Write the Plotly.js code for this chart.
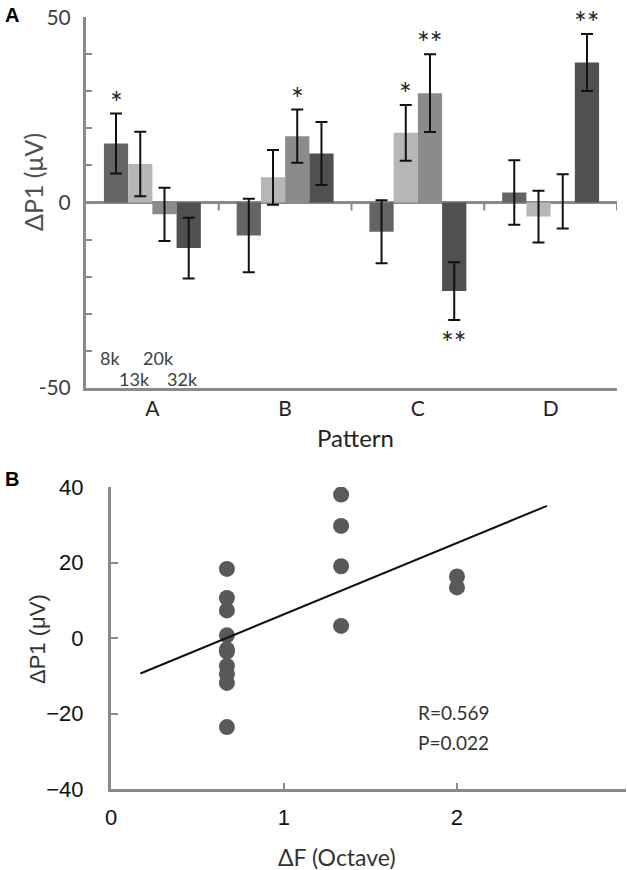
<!DOCTYPE html>
<html>
<head>
<meta charset="utf-8">
<script src="https://cdn.plot.ly/plotly-3.0.1.min.js"></script>
<style>
  html, body { margin: 0; padding: 0; background: #fff; }
  #chart { width: 627px; height: 870px; }
</style>
</head>
<body>
<div id="chart"></div>
<script>
// Painel A: ΔP1 por padrão e frequência
const patterns = ['A', 'B', 'C', 'D'];
const freqs = ['8k', '13k', '20k', '32k'];

const dp1_8k  = [15.9, -8.9, -7.9, 2.7];
const dp1_13k = [10.4, 6.8, 18.8, -3.8];
const dp1_20k = [-3.2, 17.9, 29.5, 0.3];
const dp1_32k = [-12.3, 13.2, -23.9, 37.8];

const err_8k  = [8.1, 9.9, 8.5, 8.7];
const err_13k = [8.7, 7.4, 7.5, 7.0];
const err_20k = [7.2, 7.2, 10.5, 7.3];
const err_32k = [8.2, 8.5, 7.8, 7.7];

const sig_8k  = ['*', '', '', ''];
const sig_13k = ['', '', '*', ''];
const sig_20k = ['', '*', '**', ''];
const sig_32k = ['', '', '**', '**'];

// Painel B: ΔP1 contra a distância em oitavas
const octave = [0.67, 0.67, 0.67, 0.67, 0.67, 0.67, 0.67, 0.67, 0.67, 0.67,
                1.33, 1.33, 1.33, 1.33, 2, 2];
const dp1Pts = [18.3, 10.6, 7.3, 0.7, -3.0, -3.6, -7.4, -9.6, -11.9, -23.6,
                38.0, 29.7, 19.0, 3.2, 16.3, 13.4];
const fitX = [0.17, 2.52];
const fitY = [-9.4, 35.0];
const statsText = ['R=0.569', 'P=0.022'];

const W = 627, H = 870;
const px = v => v / W;
const py = v => 1 - v / H;

const grays = ['#646464', '#b6b6b6', '#8b8b8b', '#505050'];
const axisGray = '#8a8a8a';
const bargap = 0.27;
const barW = (1 - bargap) / 4;

const series = [dp1_8k, dp1_13k, dp1_20k, dp1_32k];
const errs = [err_8k, err_13k, err_20k, err_32k];
const sigs = [sig_8k, sig_13k, sig_20k, sig_32k];

const data = series.map((vals, i) => ({
    type: 'bar',
    x: patterns,
    y: vals,
    name: freqs[i],
    marker: { color: grays[i], line: { width: 0 } },
    error_y: { type: 'data', array: errs[i], visible: true, color: '#111', thickness: 2, width: 6 },
    xaxis: 'x', yaxis: 'y',
    hoverinfo: 'skip'
}));

data.push({
    type: 'scatter', mode: 'markers', x: octave, y: dp1Pts,
    marker: { color: '#595959', size: 16 },
    xaxis: 'x2', yaxis: 'y2', hoverinfo: 'skip'
});
data.push({
    type: 'scatter', mode: 'lines', x: fitX, y: fitY,
    line: { color: '#111', width: 2 },
    xaxis: 'x2', yaxis: 'y2', hoverinfo: 'skip'
});

const annotations = [];

// asteriscos de significância
sigs.forEach((s, i) => {
    s.forEach((txt, j) => {
        if (!txt) return;
        const v = series[i][j], e = errs[i][j];
        const below = v < 0;
        annotations.push({
            xref: 'x', yref: 'y', x: j + (i - 1.5) * barW, y: below ? v - e : v + e,
            text: txt, showarrow: false, xanchor: 'center', yanchor: below ? 'top' : 'bottom',
            yshift: below ? -2 : -8,
            font: { family: 'Lato, sans-serif', size: 30, color: '#222' }
        });
    });
});

// rótulos das frequências no canto
freqs.forEach((f, i) => {
    annotations.push({
        xref: 'x', yref: 'y', x: (i - 1.5) * barW, y: i % 2 === 0 ? -42 : -47.7,
        xshift: -6, text: f, showarrow: false, xanchor: 'center', yanchor: 'middle',
        font: { family: 'Lato, sans-serif', size: 18, color: '#404040' }
    });
});

const titleFont = { family: 'Lato, sans-serif', size: 24, color: '#222' };
const boldFont = { family: 'Liberation Sans, Arial, sans-serif', size: 20, color: '#000' };
const note = (x, y, text, font, extra) => Object.assign({
    xref: 'paper', yref: 'paper', x: px(x), y: py(y), text: text, showarrow: false,
    xanchor: 'center', yanchor: 'middle', font: font
}, extra || {});

annotations.push(
    note(12, 15, '<b>A</b>', boldFont),
    note(12, 479, '<b>B</b>', boldFont),
    note(33, 182, 'ΔP1 (μV)', { family: 'Lato, sans-serif', size: 25, color: '#505050' }, { textangle: -90 }),
    note(355, 437, 'Pattern', titleFont),
    note(37, 639, 'ΔP1 (μV)', { family: 'Liberation Sans, Arial, sans-serif', size: 22, color: '#333' }, { textangle: -90 }),
    note(337, 857, 'ΔF (Octave)', { family: 'Lato, sans-serif', size: 23, color: '#333' })
);
statsText.forEach((t, i) => {
    annotations.push(note(416, 712 + i * 30, t, { family: 'Lato, sans-serif', size: 19, color: '#333' },
        { xanchor: 'left' }));
});

// tracinhos entre as categorias, pendurados na linha do zero
const shapes = patterns.map((p, i) => ({
    type: 'line', xref: 'x', yref: 'y', ysizemode: 'pixel', yanchor: 0,
    x0: i + 0.5, x1: i + 0.5, y0: 0, y1: -8,
    line: { color: axisGray, width: 2 }
}));

const layout = {
    width: W, height: H,
    margin: { l: 0, r: 0, t: 0, b: 0 },
    paper_bgcolor: '#fff', plot_bgcolor: '#fff',
    showlegend: false,
    barmode: 'group', bargap: bargap, bargroupgap: 0,
    font: { family: 'Lato, sans-serif', color: '#333' },
    xaxis: {
        domain: [px(86), px(617)], anchor: 'y', type: 'category',
        range: [-0.5, 3.5], showline: true, linecolor: axisGray, linewidth: 3,
        ticks: '', showgrid: false, zeroline: false,
        tickfont: { family: 'Lato, sans-serif', size: 21, color: '#222' },
        ticklabelstandoff: 0
    },
    yaxis: {
        domain: [py(387.7), py(17.3)], anchor: 'x', range: [-50, 50],
        tickvals: [-50, -40, -30, -20, -10, 0, 10, 20, 30, 40, 50],
        ticktext: ['-50', '', '', '', '', '0', '', '', '', '', '50'],
        ticks: 'inside', ticklen: 6, tickwidth: 2, tickcolor: axisGray,
        showline: true, linecolor: axisGray, linewidth: 3, showgrid: false,
        zeroline: true, zerolinecolor: axisGray, zerolinewidth: 3,
        tickfont: { family: 'Lato, sans-serif', size: 21, color: '#404040' },
        ticklabelstandoff: 8
    },
    xaxis2: {
        domain: [px(111), px(626)], anchor: 'y2', range: [0, 2.977],
        tickvals: [0, 1, 2], ticks: 'inside', ticklen: 6, tickwidth: 2, tickcolor: axisGray,
        showline: true, linecolor: axisGray, linewidth: 3, showgrid: false, zeroline: false,
        tickfont: { family: 'Liberation Sans, Arial, sans-serif', size: 22, color: '#111' },
        ticklabelstandoff: 7
    },
    yaxis2: {
        domain: [py(789), py(487)], anchor: 'x2', range: [-40, 40],
        tickvals: [-40, -20, 0, 20, 40], ticks: 'inside', ticklen: 7, tickwidth: 2, tickcolor: axisGray,
        showline: true, linecolor: axisGray, linewidth: 3, showgrid: false, zeroline: false,
        tickfont: { family: 'Liberation Sans, Arial, sans-serif', size: 22, color: '#111' },
        ticklabelstandoff: 20
    },
    shapes: shapes,
    annotations: annotations
};

Plotly.newPlot('chart', data, layout, { staticPlot: true });
</script>
</body>
</html>
